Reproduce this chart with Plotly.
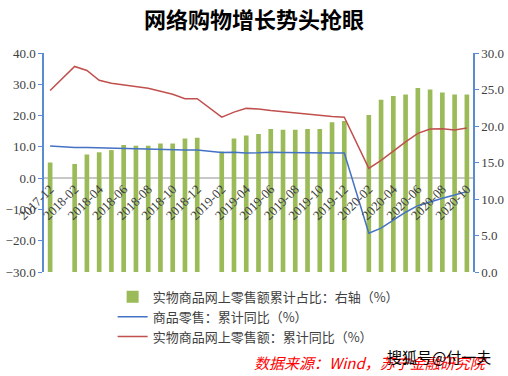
import plotly.graph_objects as go

months = ["2017-12",
          "2018-01", "2018-02", "2018-03", "2018-04", "2018-05", "2018-06",
          "2018-07", "2018-08", "2018-09", "2018-10", "2018-11", "2018-12",
          "2019-01", "2019-02", "2019-03", "2019-04", "2019-05", "2019-06",
          "2019-07", "2019-08", "2019-09", "2019-10", "2019-11", "2019-12",
          "2020-01", "2020-02", "2020-03", "2020-04", "2020-05", "2020-06",
          "2020-07", "2020-08", "2020-09", "2020-10"]

tick_labels = ["2017-12", "2018-02", "2018-04", "2018-06", "2018-08", "2018-10",
               "2018-12", "2019-02", "2019-04", "2019-06", "2019-08", "2019-10",
               "2019-12", "2020-02", "2020-04", "2020-06", "2020-08", "2020-10"]

# 实物商品网上零售额累计占比（右轴，%）
online_share = [15.0,
                None, 14.8, 16.1, 16.4, 16.7, 17.4, 17.3, 17.3, 17.6, 17.6, 18.3, 18.4,
                None, 16.5, 18.3, 18.7, 18.9, 19.6, 19.5, 19.5, 19.6, 19.6, 20.5, 20.7,
                None, 21.5, 23.6, 24.1, 24.3, 25.2, 25.0, 24.6, 24.3, 24.3]

# 商品零售：累计同比（%）
goods_retail = [10.3,
                None, 9.8, 9.8, 9.7, 9.4, 9.4, 9.3, 9.2, 9.2, 9.1, 9.0, 9.0,
                None, 8.2, 8.3, 8.0, 8.1, 8.3, 8.2, 8.1, 8.1, 8.0, 8.0, 8.0,
                None, -17.6, -16.0, -13.4, -10.9, -8.8, -7.5, -6.4, -5.4, -4.3]

# 实物商品网上零售额：累计同比（%）
online_yoy = [28.0,
              None, 35.7, 34.4, 31.3, 30.3, 29.8, 29.3, 28.7, 27.8, 26.8, 25.4, 25.4,
              None, 19.5, 21.1, 22.3, 22.1, 21.6, 21.2, 20.8, 20.6, 20.0, 19.7, 19.5,
              None, 3.1, 5.7, 8.7, 11.6, 14.3, 15.7, 15.8, 15.4, 16.0]

axis_blue = "#5B8BD0"
text_col = "#404040"
num_font = dict(family="Liberation Serif", size=13, color=text_col)

fig = go.Figure()

fig.add_trace(go.Bar(
    x=months, y=online_share, name="实物商品网上零售额累计占比：右轴（%）",
    marker=dict(color="#9BBB59", line=dict(width=0)), width=0.38, yaxis="y"))

fig.add_trace(go.Scatter(
    x=months, y=goods_retail, name="商品零售：累计同比（%）", mode="lines",
    line=dict(color="#4472C4", width=1.5), connectgaps=True, yaxis="y2"))

fig.add_trace(go.Scatter(
    x=months, y=online_yoy, name="实物商品网上零售额：累计同比（%）", mode="lines",
    line=dict(color="#C0504D", width=1.5), connectgaps=True, yaxis="y2"))

fig.update_layout(
    width=508, height=376,
    autosize=False,
    margin=dict(l=44, r=35, t=53, b=104, autoexpand=False),
    paper_bgcolor="white", plot_bgcolor="white",
    title=dict(text="<b>网络购物增长势头抢眼</b>", x=0.5, xanchor="center",
               y=0.947, yanchor="middle",
               font=dict(family="Noto Sans CJK SC", size=22, color="#000000")),
    showlegend=True,
    legend=dict(x=0.16, y=-0.045, xanchor="left", yanchor="top",
                orientation="v", bgcolor="rgba(0,0,0,0)",
                font=dict(family="Noto Sans CJK SC", size=13, color=text_col),
                itemwidth=30, tracegroupgap=0),
    xaxis=dict(type="category", categoryorder="array", categoryarray=months,
               range=[-0.5, len(months) - 0.5], automargin=False,
               tickmode="array", tickvals=tick_labels, ticktext=tick_labels,
               tickangle=-45, tickfont=num_font, showgrid=False, showline=False,
               ticks="", anchor="free", position=0.429, zeroline=False),
    yaxis=dict(side="right", range=[0, 30], dtick=5, tickformat=".1f",
               automargin=False,
               showgrid=False, zeroline=False, showline=True, linecolor=axis_blue,
               linewidth=1.5, ticks="outside", ticklen=4, tickcolor=axis_blue,
               tickfont=num_font),
    yaxis2=dict(side="left", overlaying="y", range=[-30, 40], dtick=10,
                tickformat=".1f", showgrid=False, zeroline=True, automargin=False,
                zerolinecolor="#C8C8C8", zerolinewidth=1.5,
                showline=True, linecolor=axis_blue, linewidth=1.5,
                ticks="outside", ticklen=4, tickcolor=axis_blue,
                tickfont=num_font),
)

fig.add_annotation(
    text="<i>数据来源：Wind，苏宁金融研究院</i>", xref="paper", yref="paper",
    x=0.485, y=-0.412, xanchor="left", yanchor="middle", showarrow=False,
    font=dict(family="Noto Sans CJK SC", size=15, color="#FF0000"))

fig.add_annotation(
    text="搜狐号@付一夫", xref="paper", yref="paper",
    x=0.795, y=-0.385, xanchor="left", yanchor="middle", showarrow=False,
    font=dict(family="Noto Sans CJK SC", size=15, color="#000000"))

fig.write_html("out.html", config={"displayModeBar": False},
               post_script="document.body.style.margin='0';document.body.style.padding='0';")
